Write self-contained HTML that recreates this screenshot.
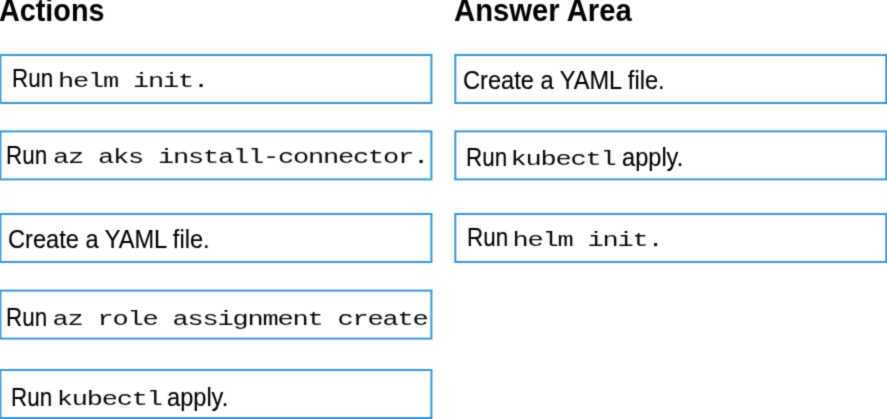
<!DOCTYPE html>
<html><head><meta charset="utf-8">
<style>
html,body{margin:0;padding:0;background:#fff;}
body{width:887px;height:419px;position:relative;overflow:hidden;font-family:"Liberation Sans",sans-serif;color:#000;}
#w{position:absolute;left:0;top:0;width:887px;height:419px;filter:url(#f);background:#fff;}
.h{position:absolute;font-weight:bold;font-size:29px;line-height:30px;height:30px;white-space:nowrap;color:#000;transform-origin:0 25.05px;transform:scale(0.992,1.08);}
.b{position:absolute;box-sizing:border-box;border:2px solid #3798d6;background:#fff;width:433px;height:50px;}
.s,.r,.c{-webkit-text-stroke:0.12px #000;}
.s,.r,.c,.m{position:absolute;white-space:nowrap;line-height:30px;height:30px;transform-origin:0 24px;}
.s{font-size:23.3px;transform:scale(1,1.08);}
.r{font-size:23.3px;transform:scale(0.962,1.08);}
.c{font-size:23.3px;transform:scale(1.013,1.08);}
.m{font-family:"Liberation Mono",monospace;font-size:27px;letter-spacing:-1.20px;transform:scale(1,0.7744);color:#0a0a0a;}
</style></head><body>
<svg width="0" height="0" style="position:absolute"><filter id="f" x="0" y="0" width="100%" height="100%" color-interpolation-filters="sRGB"><feConvolveMatrix order="3" kernelMatrix="0.0225 0.1050 0.0225 0.1050 0.4900 0.1050 0.0225 0.1050 0.0225" divisor="1" edgeMode="duplicate" preserveAlpha="false"/></filter></svg>
<div id="w">
<div class="h" style="left:-1px;top:-4.35px;">Actions</div>
<div class="h" style="left:454px;top:-4.35px;transform:scale(1.009,1.08);">Answer Area</div>

<div class="b" style="left:-1px;top:54px;height:50px;transform:translate(0.40px,0.00px);"></div>
<div class="b" style="left:-1px;top:130px;height:50px;transform:translate(0.40px,0.40px);"></div>
<div class="b" style="left:-1px;top:213px;height:50px;transform:translate(0.40px,0.00px);"></div>
<div class="b" style="left:-1px;top:289px;height:50px;transform:translate(0.40px,0.60px);"></div>
<div class="b" style="left:-1px;top:369px;height:50px;transform:translate(0.40px,0.00px);"></div>
<div class="b" style="left:454px;top:54px;height:50px;transform:translate(0.30px,0.00px);"></div>
<div class="b" style="left:454px;top:130px;height:50px;transform:translate(0.30px,0.40px);"></div>
<div class="b" style="left:454px;top:213px;height:50px;transform:translate(0.30px,0.00px);"></div>
<div class="r" style="left:12.4px;top:64.20px;">Run</div>
<div class="m" style="left:58.10px;top:64.50px;">helm init.</div>
<div class="r" style="left:6.2px;top:141.00px;">Run</div>
<div class="m" style="left:52.90px;top:141.30px;">az aks install-connector.</div>
<div class="c" style="left:7.6px;top:224.90px;">Create a YAML file.</div>
<div class="r" style="left:6.2px;top:302.90px;">Run</div>
<div class="m" style="left:52.50px;top:303.20px;">az role assignment create</div>
<div class="r" style="left:10.7px;top:382.60px;">Run</div>
<div class="m" style="left:56.70px;top:382.90px;">kubectl</div>
<div class="c" style="left:167.3px;top:382.60px;">apply.</div>
<div class="c" style="left:463.1px;top:65.80px;">Create a YAML file.</div>
<div class="r" style="left:465.5px;top:143.10px;">Run</div>
<div class="m" style="left:510.40px;top:143.40px;">kubectl</div>
<div class="c" style="left:622.3px;top:143.10px;">apply.</div>
<div class="r" style="left:466.6px;top:223.20px;">Run</div>
<div class="m" style="left:512.40px;top:223.50px;">helm init.</div>
</div></body></html>
